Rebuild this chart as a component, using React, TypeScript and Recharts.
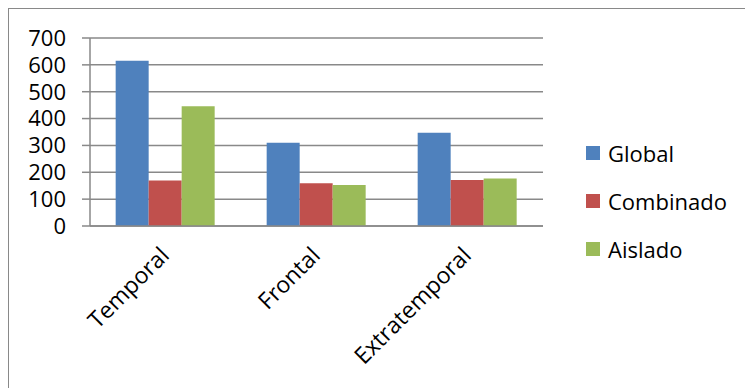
import { BarChart, Bar, XAxis, YAxis, CartesianGrid } from 'recharts';

const categories = ['Temporal', 'Frontal', 'Extratemporal'];
const globalValues = [615, 310, 347];
const combinadoValues = [169, 159, 171];
const aisladoValues = [446, 153, 177];
const yTicks = [0, 100, 200, 300, 400, 500, 600, 700];

const series = [
  { key: 'Global', color: '#4F81BD' },
  { key: 'Combinado', color: '#C0504D' },
  { key: 'Aislado', color: '#9BBB59' },
];

const data = categories.map((name, i) => ({
  name,
  Global: globalValues[i],
  Combinado: combinadoValues[i],
  Aislado: aisladoValues[i],
}));

const font = '"Open Sans", sans-serif';
const gray = '#898989';

function CategoryTick(props: any) {
  const { x, y, payload } = props;
  return (
    <g transform={`translate(${x},${y})`}>
      <text
        x={5}
        y={31}
        textAnchor="end"
        transform="rotate(-45, 5, 31)"
        fontFamily={font}
        fontSize={23}
        fill="#000"
      >
        {payload.value}
      </text>
    </g>
  );
}

export default function App() {
  return (
    <div
      style={{
        position: 'relative',
        width: 741,
        height: 380,
        border: `1px solid ${gray}`,
        background: '#fff',
      }}
    >
      <BarChart
        width={741}
        height={378}
        data={data}
        margin={{ top: 29, right: 207, bottom: 0, left: 0 }}
        barCategoryGap="17%"
        barGap={0}
      >
        <CartesianGrid vertical={false} stroke={gray} strokeWidth={1.5} />
        <XAxis
          xAxisId="b"
          type="number"
          domain={[0, 3]}
          ticks={[0, 1, 2, 3]}
          height={0}
          tick={false}
          tickSize={6}
          axisLine={false}
          tickLine={{ stroke: gray, strokeWidth: 1.5 }}
        />
        <XAxis
          dataKey="name"
          height={161}
          tickSize={0}
          tickMargin={0}
          tick={<CategoryTick />}
          axisLine={{ stroke: gray, strokeWidth: 1.5 }}
          interval={0}
        />
        <YAxis
          width={81}
          domain={[0, 700]}
          ticks={yTicks}
          tickSize={8}
          tickMargin={16}
          axisLine={{ stroke: gray, strokeWidth: 1.5 }}
          tickLine={{ stroke: gray, strokeWidth: 1.5 }}
          tick={{ fontFamily: font, fontSize: 22, fill: '#000' }}
          interval={0}
        />
        {series.map((s) => (
          <Bar key={s.key} dataKey={s.key} fill={s.color} isAnimationActive={false} />
        ))}
      </BarChart>
      {series.map((s, i) => (
        <div
          key={s.key}
          style={{
            position: 'absolute',
            left: 577,
            top: 128 + i * 48,
            display: 'flex',
            alignItems: 'center',
            fontFamily: font,
            fontSize: 22,
            lineHeight: '32px',
          }}
        >
          <span style={{ width: 14, height: 14, background: s.color, marginRight: 8 }} />
          {s.key}
        </div>
      ))}
    </div>
  );
}
